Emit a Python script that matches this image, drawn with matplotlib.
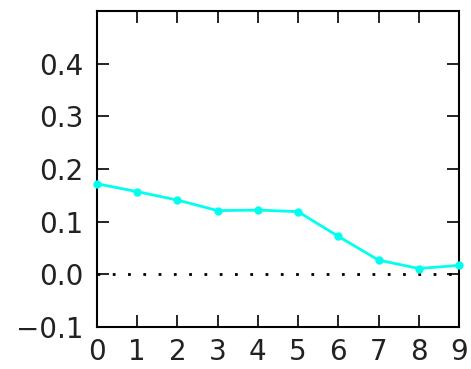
import matplotlib
matplotlib.use("Agg")
import matplotlib.pyplot as plt

steps = [0, 1, 2, 3, 4, 5, 6, 7, 8, 9]
values = [0.172, 0.157, 0.141, 0.121, 0.122, 0.119, 0.072, 0.027, 0.011, 0.017]
yticks = [-0.1, 0.0, 0.1, 0.2, 0.3, 0.4]

fig = plt.figure(figsize=(4.71, 3.69), dpi=100)
ax = fig.add_axes([97 / 471, 1 - 327 / 369, (459 - 97) / 471, (327 - 11) / 369])

ax.axhline(0, color="black", linestyle=":", linewidth=2, dashes=(1, 4.5), zorder=1)
ax.plot(steps, values, color="#00ffee", linewidth=2, marker="o", markersize=6,
        markeredgewidth=0, clip_on=False, zorder=3)

ax.set_xlim(0, 9)
ax.set_ylim(-0.1, 0.5)
ax.set_xticks(steps)
ax.set_yticks(yticks)
ax.set_yticklabels(["\u22120.1", "0.0", "0.1", "0.2", "0.3", "0.4"])
ax.tick_params(direction="in", length=8.5, width=1.2, labelsize=20,
               top=True, right=True, labelcolor="#222222")
ax.tick_params(axis="y", pad=10)
ax.tick_params(axis="x", pad=8)
for sp in ax.spines.values():
    sp.set_linewidth(1.5)

fig.savefig("out.png", dpi=100)
